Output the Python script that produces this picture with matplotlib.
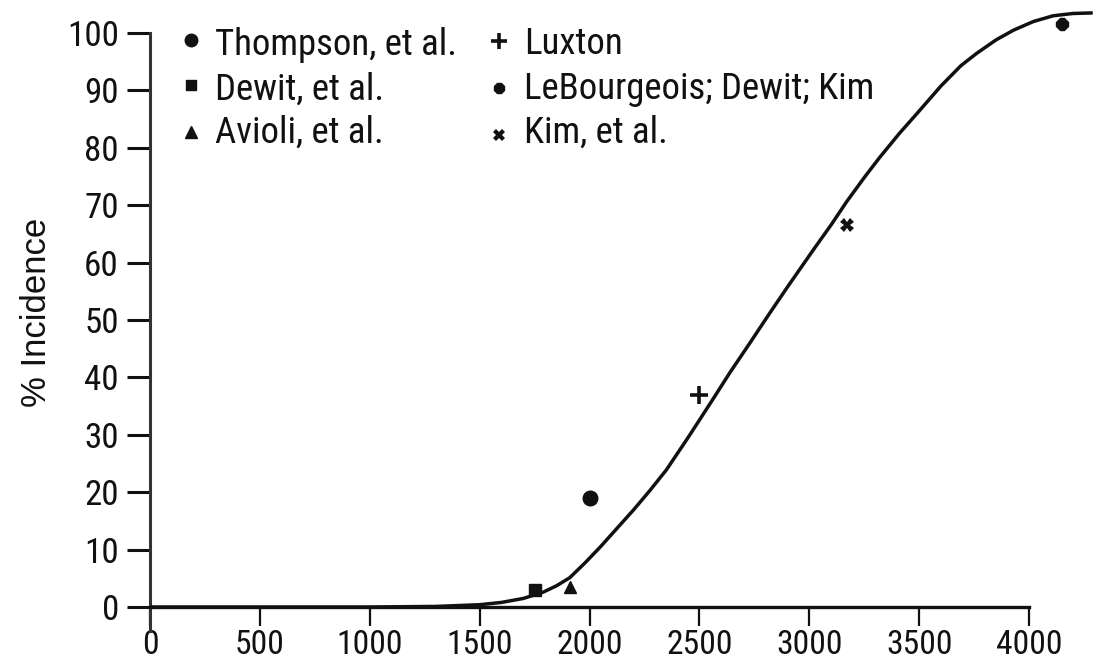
import matplotlib
matplotlib.use('Agg')
import matplotlib.pyplot as plt
from matplotlib import font_manager as fm
from matplotlib.font_manager import FontProperties

# ---------------- data ----------------
thompson_x = [2000]; thompson_y = [19]
dewit_x = [1750]; dewit_y = [3]
avioli_x = [1910]; avioli_y = [3.5]
luxton_x = [2500]; luxton_y = [37]
lebourgeois_x = [4150]; lebourgeois_y = [101.5]
kim_x = [3170]; kim_y = [66.5]

curve_x = [0, 1000, 1300, 1500, 1600, 1700, 1790, 1850, 1910, 1980, 2050, 2125,
           2200, 2275, 2350, 2450, 2560, 2640, 2730, 2815, 2900, 3020, 3100,
           3170, 3250, 3320, 3410, 3500, 3600, 3690, 3760, 3850, 3930, 4020,
           4110, 4200, 4290]
curve_y = [0, 0, 0.1, 0.4, 0.8, 1.5, 2.6, 3.7, 5.1, 7.7, 10.5, 13.7,
           16.9, 20.3, 23.9, 29.6, 36.1, 40.9, 46.0, 50.9, 55.7, 62.3, 66.6,
           70.6, 74.8, 78.3, 82.5, 86.4, 90.8, 94.3, 96.4, 98.8, 100.5, 102.0,
           103.0, 103.4, 103.5]

x_ticks = [0, 500, 1000, 1500, 2000, 2500, 3000, 3500, 4000]
y_ticks = [0, 10, 20, 30, 40, 50, 60, 70, 80, 90, 100]
y_label = "% Incidence"
legend_labels = ["Thompson, et al.", "Dewit, et al.", "Avioli, et al.",
                 "Luxton", "LeBourgeois; Dewit; Kim", "Kim, et al."]

# ---------------- fonts ----------------
def find_narrow():
    prefs = ['liberationsansnarrow-regular', 'liberationsansnarrow', 'robotocondensed-regular',
             'opensanscondensed', 'notosans-condensed', 'dejavusanscondensed.ttf']
    files = [f.fname for f in fm.fontManager.ttflist]
    for p in prefs:
        for fn in files:
            base = fn.replace('\\', '/').split('/')[-1].lower().replace(' ', '').replace('_', '')
            if base.startswith(p) and 'bold' not in base and 'italic' not in base and 'oblique' not in base:
                return fn
    return None

narrow_file = find_narrow()
if narrow_file:
    NF = lambda s: FontProperties(fname=narrow_file, size=s)
else:
    NF = lambda s: FontProperties(family='Liberation Sans', size=s)
REG = 'Liberation Sans'

W, H = 1107, 661
fig = plt.figure(figsize=(W / 100, H / 100), dpi=100)
renderer = fig.canvas.get_renderer()


def fit_size(text, target_px, max_size):
    t = fig.text(0, 0, text, fontproperties=NF(max_size))
    w = t.get_window_extent(renderer=renderer).width
    t.remove()
    return min(max_size, max_size * target_px / w)

tick_fs = fit_size("100", 52, 27)
leg_fs = fit_size("Thompson, et al.", 242, 27)

# axes box in pixels
L, R, T, B = 150, 1100, 5, 640
ax = fig.add_axes([L / W, 1 - B / H, (R - L) / W, (B - T) / H])
xs = 0.21975  # px per data unit
ys = 5.74     # px per % unit
y0_px = 607
ax.set_xlim(0, (R - L) / xs)
ax.set_ylim(-(B - y0_px) / ys, (y0_px - T) / ys)

ink = '#111111'
ax.plot(curve_x, curve_y, color=ink, lw=2.5, solid_capstyle='butt', zorder=3, clip_on=False)

mk = dict(color=ink, linestyle='none', zorder=4, clip_on=False)
series = [
    (thompson_x, thompson_y, dict(marker='o', ms=10.5)),
    (dewit_x, dewit_y, dict(marker='s', ms=8.5)),
    (avioli_x, avioli_y, dict(marker='^', ms=9)),
    (luxton_x, luxton_y, dict(marker='+', ms=13, mew=2.6)),
    (lebourgeois_x, lebourgeois_y, dict(marker='8', ms=9)),
    (kim_x, kim_y, dict(marker='X', ms=9.5, mew=0)),
]
for sx, sy, st in series:
    ax.plot(sx, sy, **mk, **st)

# spines
for s in ['top', 'right']:
    ax.spines[s].set_visible(False)
ax.spines['left'].set_position(('data', 0))
ax.spines['bottom'].set_position(('data', 0))
ax.spines['left'].set_bounds(-(631 - y0_px) / ys, 100)
ax.spines['bottom'].set_bounds(0, 4000)
ax.spines['left'].set_linewidth(2.2)
ax.spines['bottom'].set_linewidth(2.4)
ax.spines['left'].set_color('#333333')
ax.spines['bottom'].set_color(ink)

ax.set_xticks(x_ticks)
ax.set_yticks(y_ticks)
ax.set_xticklabels([str(v) for v in x_ticks], fontproperties=NF(tick_fs * 0.96))
ax.set_yticklabels([str(v) for v in y_ticks], fontproperties=NF(tick_fs))
ax.tick_params(axis='y', direction='out', length=16.5, width=2.2, pad=6, colors=ink)
ax.tick_params(axis='x', direction='out', length=14, width=1.6, pad=1.5, colors=ink)


def fx(px):
    return px / W


def fy(py):
    return 1 - py / H

fig.text(fx(37), fy(312), y_label, rotation=90, ha='center', va='center',
         fontfamily=REG, fontsize=25, color=ink)

# legend (manual)
leg_marker_px = [(191, 40), (191, 85), (191, 132), (499, 41), (499, 88), (499, 135)]
leg_text_px = [(215, 55), (215, 100), (215, 143), (524, 54), (524, 99), (524, 143)]
leg_sizes = [dict(marker='o', ms=9), dict(marker='s', ms=7.5), dict(marker='^', ms=8),
             dict(marker='+', ms=11, mew=2.6), dict(marker='8', ms=8.5),
             dict(marker='X', ms=8.5, mew=0)]
for (mx, my), (tx, ty), st, lab in zip(leg_marker_px, leg_text_px, leg_sizes, legend_labels):
    ax.plot([fx(mx)], [fy(my)], transform=fig.transFigure, color=ink,
            linestyle='none', clip_on=False, **st)
    fig.text(fx(tx), fy(ty), lab, ha='left', va='baseline', fontproperties=NF(leg_fs),
             color=ink)

fig.savefig('out.png', dpi=100)
